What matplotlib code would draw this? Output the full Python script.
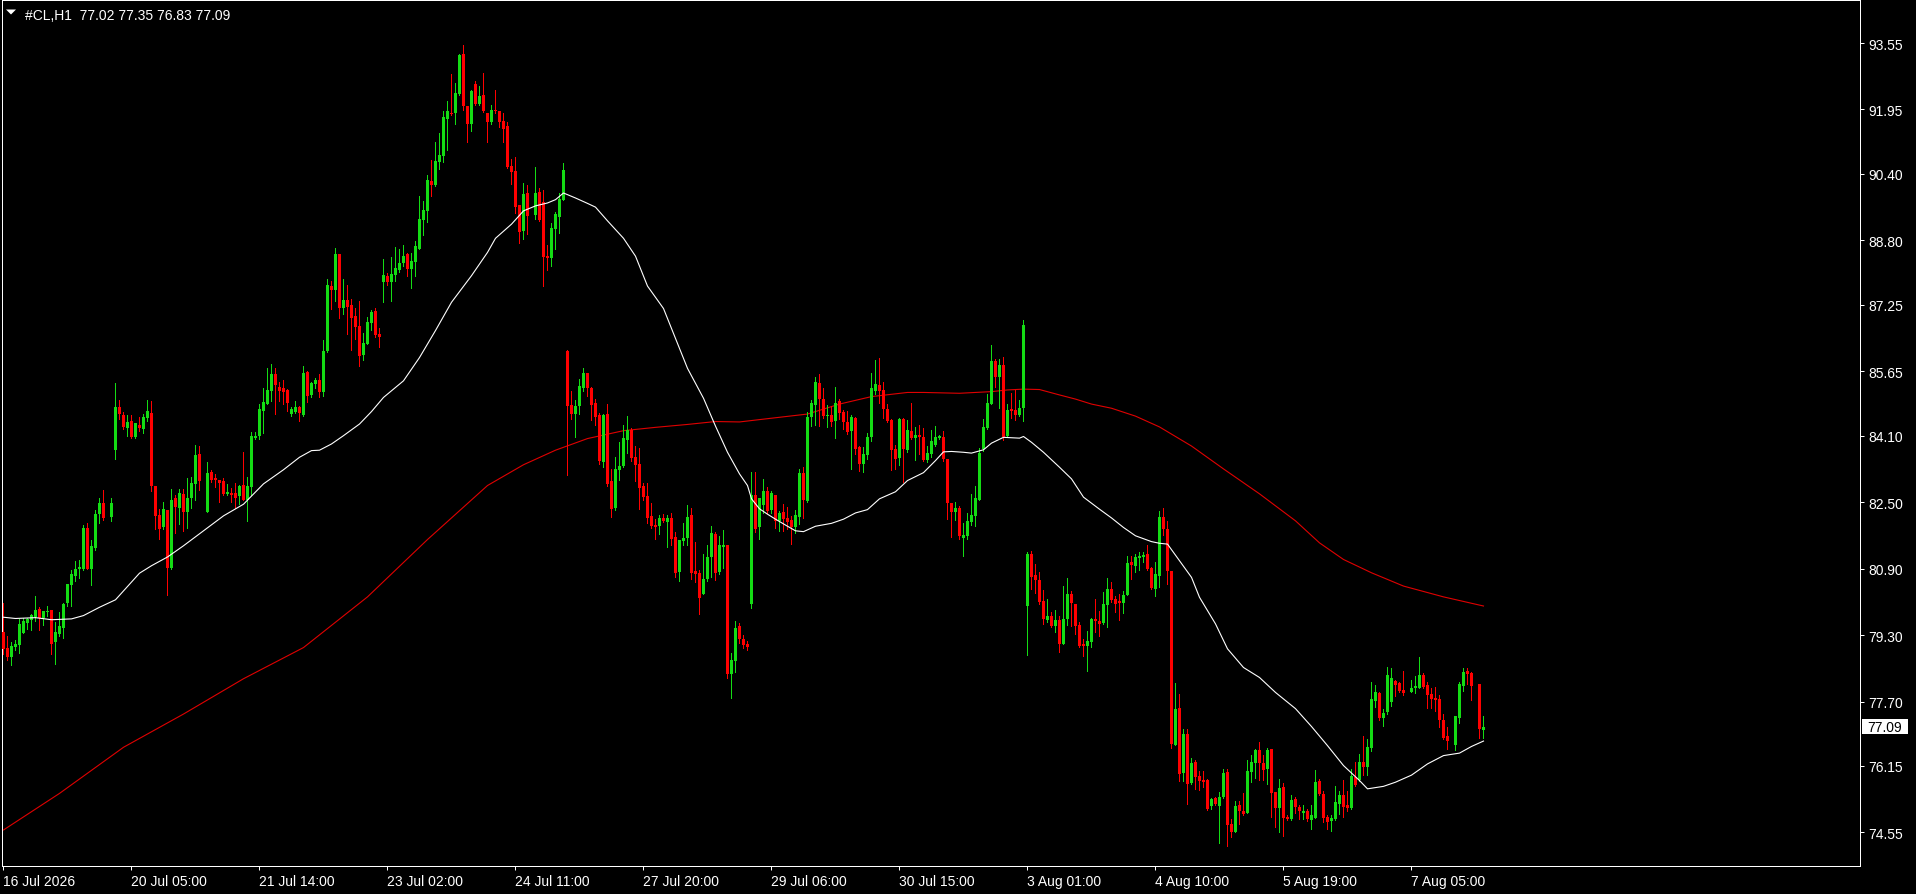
import numpy as np
import matplotlib
matplotlib.use("Agg")
import matplotlib.pyplot as plt
from matplotlib.patches import Polygon, Rectangle

plt.rcParams['font.family'] = ['Liberation Sans', 'DejaVu Sans']

# ---------------- data (hourly #CL candles, bar index 0..370) ----------------
symbol = "#CL,H1"

open_ = [
    79.37, 79.00, 78.78, 79.02, 79.07, 79.36, 79.59, 79.67, 79.73, 79.93,
    79.72, 79.86, 79.90, 79.13, 79.33, 79.48, 80.07, 80.51, 80.72, 80.88,
    80.89, 81.87, 80.89, 81.40, 82.21, 82.48, None, 82.15, 83.75, 84.79,
    84.60, 84.28, 84.45, 84.07, 84.36, 84.26, 84.53, 84.64, 82.89, 82.19,
    81.90, 82.31, 80.91, 82.60, 82.36, 82.69, 82.27, 82.60, 82.94, 83.66,
    None, 82.27, 83.23, 83.08, 83.03, 83.01, 82.70, 82.72, 82.73, 82.65,
    82.92, 82.56, 82.87, 84.05, 84.10, 84.70, 84.87, 85.18, 85.58, 85.27,
    85.25, 85.20, 84.63, 84.68, 84.80, 84.60, 85.63, 85.09, 85.34, 85.44,
    85.16, 86.14, 87.70, 87.61, 88.47, 87.17, 87.36, 87.24, 86.98, 86.74,
    86.04, 86.31, 86.81, 87.11, 86.55, 87.81, 87.95, 87.81, 87.97, 88.09,
    88.26, 88.46, 88.12, 88.29, 88.60, 89.29, 89.51, 90.23, 90.13, 90.69,
    90.83, 91.72, 91.86, 91.86, 92.32, 93.29, 92.03, 91.60, 92.56, 92.08,
    92.30, 91.86, 91.65, 91.94, 91.91, 91.67, 91.55, 90.59, 90.47, 89.65,
    89.02, 89.94, None, 89.41, 89.96, 89.72, 88.42, 88.38, 89.07, 89.37,
    89.77, 86.14, 84.83, 84.62, 84.81, 85.24, 85.60, 85.24, 84.88, 84.60,
    83.47, 84.62, 83.01, 82.37, 83.27, 83.37, 83.99, 84.24, 83.59, 83.42,
    82.88, 82.65, 82.16, 81.94, 81.92, 82.13, 82.03, 82.13, 81.67, 80.82,
    81.56, 81.64, 82.18, 80.84, 80.79, 80.29, 80.65, 81.18, 81.74, 80.82,
    81.43, 81.46, 78.36, 78.67, 79.51, 79.20, 79.08, 80.05, 82.66, 81.89,
    82.43, 82.77, 82.32, 82.67, 82.05, 82.26, 82.12, 82.07, 81.89, 82.14,
    83.20, 82.53, 84.55, 84.84, 85.37, 84.98, 84.57, 84.60, 84.45, 84.93,
    84.67, 84.44, 84.21, 84.52, 83.83, 83.42, 83.63, 84.07, 85.17, 85.32,
    85.20, 84.74, 84.48, 83.78, 83.56, 84.50, 83.75, 84.21, 84.04, 84.12,
    84.07, 83.52, 83.67, 83.87, 84.05, 84.07, 83.54, 82.48, 82.26, 82.36,
    81.64, 81.69, 82.02, 82.17, 82.55, 83.78, 84.28, 84.86, 85.90, 85.51,
    85.80, 84.09, 84.74, 84.72, 84.60, 84.77, 80.01, 81.25, 80.75, 80.63,
    80.13, 79.67, 79.77, 79.53, 79.67, 79.09, 79.69, 80.29, 80.05, 79.54,
    79.09, 79.03, 79.14, 79.69, 79.65, 79.59, 80.02, 80.41, 80.17, 80.13,
    80.07, 80.27, 81.06, 80.96, 81.16, 81.18, 81.25, 80.91, 80.41, 80.72,
    82.14, 81.85, 80.84, 76.66, 77.55, 75.98, 76.92, 75.74, 76.25, 75.91,
    75.81, 75.81, 75.19, 75.38, 75.19, 75.40, 76.01, 74.75, 74.56, 75.21,
    75.07, 75.02, 76.01, 76.22, 76.53, 76.22, 76.08, 76.56, 75.52, 75.14,
    75.64, 74.92, 74.87, 75.36, 75.16, 75.01, 75.07, 74.86, 74.91, 75.80,
    75.48, 74.92, 74.82, 74.87, 75.24, 75.45, 75.21, 75.13, 75.89, 75.82,
    76.25, 76.13, 76.59, 77.71, 77.91, 77.30, 77.44, 77.69, 78.20, 78.15,
    77.98, None, 77.94, 78.03, 78.03, 78.34, 78.10, 77.88, 77.76, 77.76,
    77.26, 76.87, None, 76.66, 77.30, 78.07, 78.44, 78.39, None, 78.12,
    77.02]

high = [
    80.07, 79.27, 79.13, 79.18, 79.69, 79.72, 79.72, 79.81, 80.24, 79.97,
    79.89, 80.00, 79.91, 79.61, 79.86, 80.07, 80.54, 80.87, 81.08, 81.11,
    81.95, 81.99, 81.60, 82.30, 82.60, 82.79, None, 82.60, 85.37, 84.96,
    84.66, 84.60, 84.60, 84.41, 84.54, 84.61, 84.96, 84.93, 82.90, 82.33,
    82.50, 82.32, 82.82, 82.67, 82.82, 82.82, 83.08, 83.11, 83.88, 83.85,
    None, 83.47, 83.27, 83.18, 83.04, 83.08, 82.94, 82.83, 82.97, 82.91,
    83.71, 83.11, 84.20, 84.20, 84.87, 85.25, 85.73, 85.82, 85.73, 85.40,
    85.44, 85.22, 84.80, 84.94, 84.82, 85.78, 85.66, 85.38, 85.49, 85.58,
    86.40, 87.87, 87.82, 88.62, 88.48, 87.87, 87.73, 87.39, 87.17, 87.34,
    86.57, 86.96, 87.13, 87.18, 86.70, 88.36, 88.02, 88.41, 88.65, 88.60,
    88.70, 88.50, 88.50, 88.79, 89.87, 89.75, 90.37, 90.73, 91.17, 91.38,
    91.91, 92.15, 92.80, 92.59, 93.29, 93.50, 92.04, 92.42, 92.64, 92.52,
    92.83, 91.87, 92.06, 92.42, 91.92, 91.86, 91.65, 90.76, 90.81, 89.66,
    90.18, 90.13, None, 90.57, 90.06, 90.01, 88.69, 89.22, 89.48, 89.94,
    90.66, 86.15, 85.17, 84.95, 85.46, 85.73, 85.61, 85.26, 84.98, 84.65,
    84.61, 84.86, 83.30, 83.59, 83.95, 84.35, 84.57, 84.29, 83.86, 83.81,
    82.96, 82.96, 82.47, 82.09, 82.20, 82.22, 82.20, 82.23, 81.79, 81.59,
    82.01, 82.43, 82.37, 81.54, 80.87, 81.25, 81.46, 81.92, 81.77, 81.69,
    81.84, 81.47, 78.87, 79.64, 79.60, 79.30, 79.15, 83.22, 83.22, 82.60,
    83.06, 82.86, 82.78, 82.68, 82.29, 82.46, 82.39, 82.17, 82.30, 83.30,
    83.34, 84.66, 84.96, 85.50, 85.59, 85.24, 84.84, 84.82, 85.27, 84.98,
    84.72, 84.70, 84.60, 84.55, 83.84, 83.82, 84.16, 85.62, 85.92, 85.97,
    85.38, 84.86, 84.49, 83.88, 84.53, 84.53, 84.48, 84.88, 84.30, 84.36,
    84.28, 83.86, 84.24, 84.33, 84.12, 84.21, 83.55, 82.49, 82.50, 82.41,
    82.00, 82.24, 82.70, 82.89, 83.80, 84.50, 85.10, 86.28, 85.94, 85.94,
    85.99, 84.86, 85.13, 85.20, 84.96, 86.88, 81.31, 81.32, 81.01, 80.81,
    80.38, 80.17, 79.86, 79.90, 79.77, 80.47, 80.67, 80.37, 80.06, 79.62,
    79.21, 79.40, 79.70, 80.17, 79.89, 80.33, 80.67, 80.58, 80.25, 80.29,
    80.37, 81.20, 81.20, 81.25, 81.30, 81.31, 81.47, 80.95, 81.06, 82.29,
    82.36, 82.05, 80.85, 78.15, 77.88, 77.04, 77.04, 76.34, 76.29, 76.03,
    76.03, 75.84, 75.39, 75.40, 75.52, 76.08, 76.07, 74.87, 75.31, 75.31,
    75.50, 76.30, 76.41, 76.56, 76.73, 76.41, 76.58, 76.57, 75.53, 75.84,
    75.74, 74.97, 75.45, 75.40, 75.20, 75.20, 75.11, 75.20, 76.05, 75.84,
    75.56, 74.98, 74.98, 75.67, 75.55, 75.81, 75.55, 76.08, 76.25, 76.44,
    76.88, 76.80, 78.17, 78.11, 77.92, 77.52, 78.53, 78.51, 78.21, 78.17,
    78.44, None, 78.22, 78.32, 78.77, 78.39, 78.17, 78.03, 78.05, 77.86,
    77.40, 77.09, None, 77.36, 78.17, 78.51, 78.51, 78.41, None, 78.13,
    77.35]

low = [
    78.84, 78.71, 78.59, 78.94, 78.88, 79.35, 79.45, 79.43, 79.65, 79.43,
    79.55, 79.77, 78.85, 78.61, 79.29, 79.24, 80.01, 79.99, 80.60, 80.67,
    80.87, 80.89, 80.51, 81.36, 82.01, 82.08, None, 82.05, 83.54, 84.50,
    84.26, 84.10, 84.04, 84.05, 84.21, 84.16, 84.45, 82.78, 81.85, 81.61,
    81.85, 80.26, 80.90, 81.76, 81.97, 81.80, 81.88, 82.36, 82.56, 82.80,
    None, 82.26, 82.99, 82.87, 82.51, 82.68, 82.66, 82.51, 82.37, 82.46,
    82.54, 82.05, 82.66, 84.03, 84.03, 84.17, 84.86, 84.94, 84.61, 84.94,
    84.87, 84.70, 84.58, 84.65, 84.46, 84.58, 84.92, 85.04, 85.25, 85.04,
    85.06, 86.11, 87.15, 87.34, 86.93, 87.03, 86.55, 86.16, 86.43, 85.78,
    85.92, 86.30, 86.65, 86.48, 86.24, 87.32, 87.73, 87.35, 87.83, 88.05,
    88.19, 87.95, 87.66, 87.95, 88.59, 88.93, 89.24, 89.87, 90.11, 90.52,
    90.69, 90.97, 91.82, 91.60, 92.31, 91.94, 91.17, 91.43, 92.06, 92.06,
    91.89, 91.17, 91.60, 91.86, 91.53, 91.17, 90.54, 90.16, 89.46, 88.74,
    88.83, 88.95, None, 89.31, 89.27, 87.70, 88.09, 88.19, 88.59, 88.97,
    89.76, 83.16, 84.50, 84.07, 84.61, 85.17, 85.05, 84.47, 84.35, 83.42,
    83.35, 82.88, 82.15, 82.32, 83.03, 83.35, 83.69, 83.49, 83.01, 82.34,
    82.55, 82.01, 81.88, 81.61, 81.74, 82.03, 81.41, 81.46, 80.70, 80.61,
    81.47, 81.47, 80.66, 80.57, 79.81, 80.28, 80.60, 80.71, 80.63, 80.76,
    80.91, 78.27, 77.78, 78.42, 79.10, 78.98, 78.95, 79.95, 81.77, 81.61,
    82.25, 82.25, 82.25, 81.88, 81.81, 81.80, 81.85, 81.50, 81.76, 81.98,
    82.11, 82.50, 84.33, 84.36, 84.34, 84.53, 84.32, 84.34, 84.04, 84.50,
    84.26, 84.13, 83.30, 83.66, 83.26, 83.23, 83.54, 83.98, 85.10, 84.89,
    84.52, 84.42, 83.27, 83.30, 83.39, 82.99, 83.70, 84.02, 83.52, 83.66,
    83.48, 83.46, 83.59, 83.86, 84.02, 83.50, 82.09, 81.66, 82.07, 81.61,
    81.20, 81.61, 81.95, 81.93, 82.54, 83.73, 84.27, 84.85, 85.27, 84.77,
    84.00, 84.08, 84.52, 84.48, 84.57, 84.45, 78.83, 80.41, 80.32, 80.05,
    79.57, 79.61, 79.49, 79.37, 78.90, 79.08, 79.55, 79.51, 79.33, 79.02,
    78.80, 78.44, 79.02, 79.38, 79.29, 79.56, 79.49, 80.09, 79.85, 79.66,
    79.83, 80.26, 80.66, 80.82, 80.87, 81.06, 80.86, 80.40, 80.24, 80.46,
    81.71, 80.53, 76.58, 76.65, 75.80, 75.78, 75.24, 75.71, 75.60, 75.57,
    75.64, 75.10, 75.11, 75.20, 74.30, 75.37, 74.23, 74.45, 74.55, 74.75,
    74.97, 75.01, 75.77, 75.86, 75.81, 75.81, 75.72, 74.93, 74.69, 74.55,
    74.47, 74.85, 74.86, 75.03, 74.87, 74.87, 74.83, 74.63, 74.89, 75.44,
    74.79, 74.63, 74.59, 74.86, 74.99, 74.93, 75.07, 75.12, 75.68, 75.80,
    75.93, 75.93, 76.52, 77.58, 77.26, 77.12, 77.41, 77.59, 77.84, 77.92,
    77.86, None, 77.92, 77.91, 78.02, 78.03, 77.55, 77.55, 77.47, 77.09,
    76.80, 76.56, None, 76.53, 77.18, 77.95, 78.12, 77.74, None, 76.82,
    76.83]

close = [
    78.96, 78.78, 79.04, 79.09, 79.57, 79.64, 79.69, 79.78, 79.90, 79.72,
    79.88, 79.88, 79.09, 79.37, 79.52, 80.04, 80.53, 80.77, 80.89, 80.93,
    81.87, 80.90, 81.44, 82.21, 82.48, 82.12, None, 82.48, 84.79, 84.62,
    84.31, 84.43, 84.07, 84.40, 84.28, 84.55, 84.69, 82.89, 82.17, 81.85,
    82.33, 80.91, 82.55, 82.38, 82.72, 82.26, 82.60, 82.96, 83.63, 83.02,
    None, 83.20, 83.03, 83.03, 82.96, 82.70, 82.75, 82.67, 82.61, 82.90,
    82.56, 82.90, 84.10, 84.10, 84.75, 84.92, 85.21, 85.58, 85.33, 85.18,
    85.16, 84.89, 84.73, 84.80, 84.65, 85.61, 85.06, 85.37, 85.44, 85.16,
    86.14, 87.73, 87.61, 88.47, 87.17, 87.36, 87.20, 86.93, 86.71, 86.02,
    86.33, 86.84, 87.08, 86.53, 86.48, 87.97, 87.81, 88.00, 88.14, 88.26,
    88.43, 88.12, 88.31, 88.67, 89.31, 89.53, 90.25, 90.13, 90.71, 90.85,
    91.77, 91.91, 91.84, 92.35, 93.26, 92.03, 91.60, 92.39, 92.08, 92.27,
    91.91, 91.65, 91.94, 91.91, 91.65, 91.48, 90.57, 90.45, 89.60, 89.00,
    89.92, 89.39, None, 89.94, 89.29, 88.40, 88.38, 89.10, 89.44, 89.80,
    90.49, 84.81, 84.62, 84.81, 85.29, 85.60, 85.24, 84.83, 84.55, 83.49,
    84.60, 82.94, 82.34, 83.30, 83.37, 84.04, 84.24, 83.56, 83.40, 82.85,
    82.62, 82.13, 81.92, 81.90, 82.13, 82.05, 82.13, 81.61, 80.80, 81.58,
    81.64, 82.15, 80.80, 80.78, 80.19, 80.65, 81.18, 81.75, 80.80, 81.46,
    81.46, 78.36, 78.70, 79.46, 79.20, 79.05, 79.02, 82.66, 81.85, 82.59,
    82.77, 82.29, 82.72, 82.05, 82.24, 82.09, 82.02, 81.89, 82.19, 83.20,
    82.55, 84.55, 84.88, 85.39, 84.98, 84.57, 84.60, 84.44, 84.89, 84.64,
    84.42, 84.20, 84.55, 83.78, 83.42, 83.66, 84.07, 85.24, 85.34, 85.17,
    84.74, 84.46, 83.75, 83.54, 84.50, 83.78, 84.24, 84.05, 84.12, 84.07,
    83.52, 83.68, 83.97, 84.07, 84.09, 83.54, 82.48, 82.26, 82.35, 81.69,
    81.71, 82.05, 82.19, 82.60, 83.68, 84.31, 84.89, 85.90, 85.51, 85.80,
    84.07, 84.72, 84.69, 84.60, 84.77, 86.76, 81.25, 80.71, 80.63, 80.10,
    79.69, 79.77, 79.53, 79.67, 79.09, 79.69, 80.29, 80.07, 79.51, 79.03,
    79.03, 79.16, 79.69, 79.65, 79.57, 80.05, 80.41, 80.15, 80.05, 80.08,
    80.27, 81.04, 80.99, 81.18, 81.20, 81.23, 80.89, 80.43, 80.77, 82.14,
    81.85, 80.84, 76.68, 77.52, 75.96, 76.92, 75.72, 76.22, 75.89, 75.79,
    75.77, 75.11, 75.36, 75.24, 75.40, 75.98, 74.73, 74.56, 75.19, 75.07,
    74.99, 76.03, 76.25, 76.53, 76.22, 76.05, 76.53, 75.50, 75.14, 75.62,
    74.90, 74.87, 75.33, 75.16, 75.07, 75.07, 74.87, 74.98, 75.77, 75.48,
    74.91, 74.81, 74.90, 75.28, 75.45, 75.17, 75.13, 75.92, 75.70, 76.25,
    76.13, 76.61, 77.76, 77.93, 77.31, 77.42, 78.34, 78.27, 78.10, 77.96,
    77.91, None, 78.03, 78.08, 78.34, 78.05, 77.86, 77.76, 77.75, 77.26,
    76.82, 76.76, None, 77.35, 78.12, 78.41, 78.36, 78.07, None, 77.04,
    77.09]

# moving averages (bar index, value)
ma_fast_idx = [0, 3, 8, 12, 17, 20, 24, 28, 31, 34, 37, 41, 45, 50, 55, 60, 65, 70, 74, 77,
               79, 82, 85, 89, 92, 95, 100, 104, 108, 112, 117, 121, 123, 127, 130, 133, 136,
               138, 140, 143, 146, 148, 151, 155, 158, 161, 165, 168, 171, 175, 178, 181, 184,
               186, 187, 189, 191, 193, 196, 198, 200, 203, 207, 210, 213, 216, 219, 223, 226,
               230, 233, 235, 237, 240, 242, 245, 247, 250, 252, 254, 255, 257, 260, 264, 267,
               270, 274, 277, 280, 283, 287, 289, 291, 294, 297, 299, 303, 306, 310, 314, 318,
               323, 327, 331, 335, 339, 341, 345, 348, 352, 356, 360, 364, 367, 370]
ma_fast_val = [79.73, 79.70, 79.72, 79.67, 79.69, 79.77, 79.97, 80.15, 80.47, 80.79, 80.97,
               81.18, 81.45, 81.81, 82.17, 82.45, 82.94, 83.28, 83.58, 83.74, 83.75, 83.90,
               84.10, 84.38, 84.68, 85.02, 85.42, 85.98, 86.63, 87.31, 87.95, 88.51, 88.85,
               89.19, 89.51, 89.63, 89.70, 89.78, 89.94, 89.82, 89.69, 89.60, 89.27, 88.85,
               88.42, 87.70, 87.16, 86.44, 85.72, 85.00, 84.33, 83.70, 83.18, 82.90, 82.58,
               82.34, 82.21, 82.09, 81.92, 81.81, 81.79, 81.92, 81.99, 82.09, 82.24, 82.32,
               82.58, 82.75, 83.02, 83.21, 83.50, 83.71, 83.72, 83.70, 83.68, 83.76, 83.92,
               84.06, 84.05, 84.04, 84.08, 83.94, 83.70, 83.34, 83.06, 82.62, 82.33, 82.12,
               81.89, 81.69, 81.55, 81.51, 81.49, 81.09, 80.69, 80.21, 79.57, 78.97, 78.52,
               78.28, 77.92, 77.53, 77.10, 76.64, 76.16, 75.80, 75.60, 75.66, 75.76, 75.93,
               76.20, 76.40, 76.46, 76.62, 76.75]

ma_slow_idx = [0, 14, 30, 45, 60, 75, 91, 106, 121, 130, 138, 146, 155, 163, 171, 178, 184,
               192, 201, 209, 217, 226, 230, 239, 247, 251, 255, 259, 264, 268, 272, 277, 283,
               289, 297, 305, 314, 323, 329, 335, 342, 350, 360, 370]
ma_slow_val = [74.61, 75.49, 76.60, 77.40, 78.25, 79.00, 80.22, 81.60, 82.90, 83.40, 83.75,
               84.03, 84.22, 84.30, 84.37, 84.44, 84.43, 84.52, 84.62, 84.86, 85.04, 85.14,
               85.14, 85.12, 85.16, 85.20, 85.22, 85.21, 85.08, 84.98, 84.86, 84.76, 84.57,
               84.31, 83.85, 83.30, 82.70, 82.05, 81.52, 81.12, 80.80, 80.48, 80.22, 80.00]

price_ticks = [93.55, 91.95, 90.40, 88.80, 87.25, 85.65, 84.10, 82.50, 80.90, 79.30, 77.70, 76.15, 74.55]
time_tick_bars = [0, 32, 64, 96, 128, 160, 192, 224, 256, 288, 320, 352]
time_tick_labels = ["16 Jul 2026", "20 Jul 05:00", "21 Jul 14:00", "23 Jul 02:00", "24 Jul 11:00",
                    "27 Jul 20:00", "29 Jul 06:00", "30 Jul 15:00", "3 Aug 01:00", "4 Aug 10:00",
                    "5 Aug 19:00", "7 Aug 05:00"]

# ---------------- figure ----------------
W, H = 1916, 895
BG = '#000000'
UP = '#14DC14'
DN = '#FF0000'
FG = '#FFFFFF'

fig = plt.figure(figsize=(W / 100, H / 100), dpi=100)
fig.patch.set_facecolor(BG)
ax = fig.add_axes([2 / W, 28 / H, 1858 / W, 866 / H])
ax.set_facecolor(BG)

n = min(len(open_), len(high), len(low), len(close))
to_arr = lambda s: np.array([np.nan if v is None else v for v in s[:n]], dtype=float)
o, h, l, c = to_arr(open_), to_arr(high), to_arr(low), to_arr(close)
x = np.arange(n)
ok = ~np.isnan(o)
up = (c >= o) & ok
dn = (c < o) & ok

px = 1.0 / 1.389  # one pixel in points
for mask, col in ((up, UP), (dn, DN)):
    ax.vlines(x[mask], l[mask], h[mask], colors=col, linewidth=px, antialiased=False, zorder=3)
    bottoms = np.minimum(o[mask], c[mask])
    heights = np.maximum(np.abs(c[mask] - o[mask]), 0.03)
    ax.bar(x[mask], heights, bottom=bottoms, width=0.75, color=col, linewidth=0,
           antialiased=False, zorder=4)

ax.plot(ma_slow_idx, ma_slow_val, color='#E00000', linewidth=0.8, zorder=2)
ax.plot(ma_fast_idx, ma_fast_val, color='#FFFFFF', linewidth=0.8, zorder=5)

ax.set_xlim(-0.375, 464.125)
ax.set_ylim(73.743, 94.585)

for sp in ax.spines.values():
    sp.set_color(FG)
    sp.set_linewidth(px)

ax.yaxis.tick_right()
ax.set_yticks(price_ticks)
ax.set_yticklabels([f"{v:.2f}" for v in price_ticks])
ax.tick_params(axis='y', which='both', left=False, right=True, labelleft=False, labelright=True,
               direction='out', length=3, width=px, colors=FG, pad=3, labelsize=10)
ax.set_xticks(time_tick_bars)
ax.set_xticklabels(time_tick_labels, ha='left')
ax.tick_params(axis='x', direction='out', length=3, width=px, colors=FG, pad=3, labelsize=10)
for t in ax.get_xticklabels():
    t.set_horizontalalignment('left')

# header
fig.text(25 / W, 1 - 19.5 / H,
         f"{symbol}  {o[-1]:.2f} {h[-1]:.2f} {l[-1]:.2f} {c[-1]:.2f}",
         color=FG, fontsize=10, va='baseline', ha='left')
tri = Polygon([[6 / W, 1 - 10.5 / H], [16 / W, 1 - 10.5 / H], [11 / W, 1 - 15.5 / H]],
              closed=True, transform=fig.transFigure, facecolor=FG, edgecolor='none')
fig.add_artist(tri)

# current price label
fig.canvas.draw()
y_disp = ax.transData.transform((0, c[-1]))[1]
yf = y_disp / H
fig.add_artist(Rectangle((1862 / W, yf - 7.5 / H), 46 / W, 15 / H, transform=fig.transFigure,
                         facecolor='white', edgecolor='none'))
fig.text(1867 / W, yf, f"{c[-1]:.2f}", color='black', fontsize=10, va='center', ha='left')

fig.savefig('out.png', dpi=100, facecolor=BG)
